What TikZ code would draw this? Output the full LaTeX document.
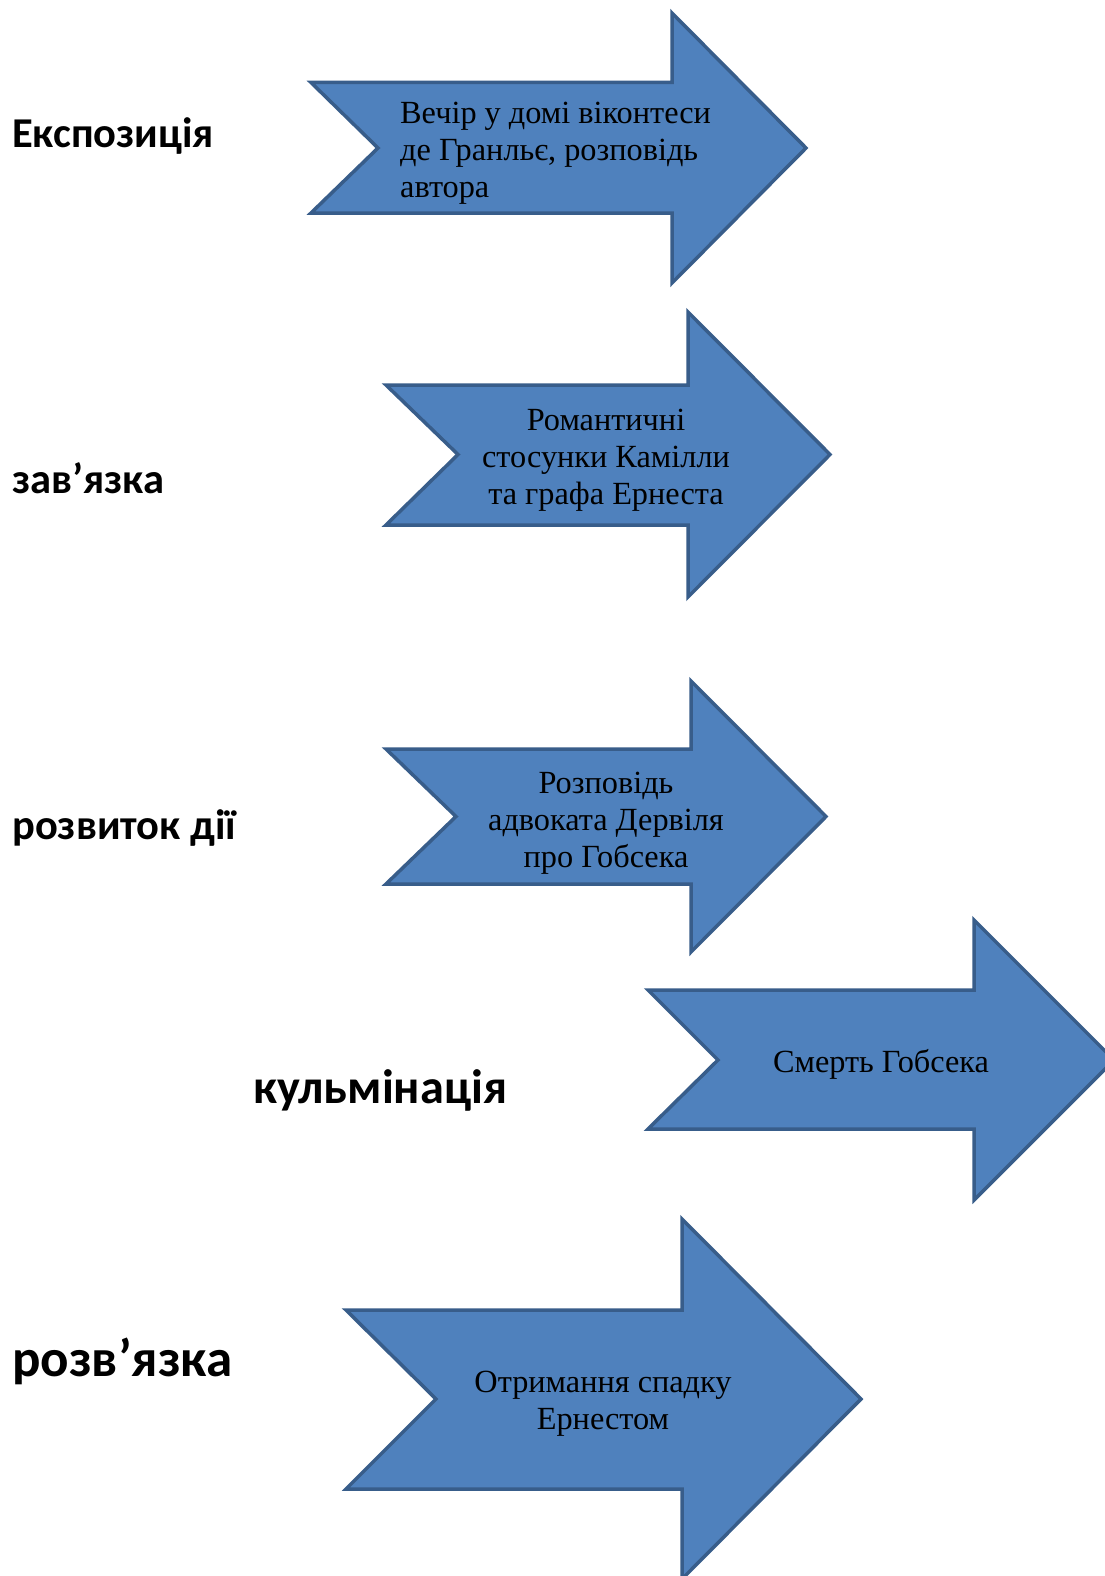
\documentclass[tikz,border=0pt]{standalone}
\usepackage{fontspec}
\setmainfont{Liberation Serif}
\newfontfamily\stagefont{Carlito}
\definecolor{arrowfill}{HTML}{4F81BD}
\definecolor{arrowline}{HTML}{385D8A}
\tikzset{
	blockarrow/.style={fill=arrowfill, draw=arrowline, line width=3.5pt, line join=miter},
	stage/.style={anchor=west, inner sep=0pt, font=\stagefont\bfseries\fontsize{42.5}{50}\selectfont},
	bigstage/.style={stage, font=\stagefont\bfseries\fontsize{48.3}{58}\selectfont},
	event/.style={inner sep=0pt, align=center, font=\fontsize{32.3}{37}\selectfont}
}
\begin{document}
\begin{tikzpicture}[x=1pt,y=-1pt]
		\useasboundingbox (0,0) rectangle (1105,1576);
		\clip (0,0) rectangle (1105,1576);
		\fill[white] (0,0) rectangle (1105,1576);
		
		% arrows
		\draw[blockarrow] (311,82.5) -- (672,82.5) -- (672,13) -- (806,148) -- (672,283) -- (672,213) -- (311,213) -- (378,148) -- cycle;
		\draw[blockarrow] (386,385) -- (688,385) -- (688,312) -- (830,454.5) -- (688,597) -- (688,525) -- (386,525) -- (458,454.5) -- cycle;
		\draw[blockarrow] (386,749) -- (691,749) -- (691,681) -- (826,816.5) -- (691,952) -- (691,884) -- (386,884) -- (456,816.5) -- cycle;
		\draw[blockarrow] (648,990) -- (974,990) -- (974,920) -- (1114,1060) -- (974,1200) -- (974,1129) -- (648,1129) -- (718,1060) -- cycle;
		\draw[blockarrow] (346,1310) -- (682,1310) -- (682,1219) -- (861,1399) -- (682,1579) -- (682,1489) -- (346,1489) -- (436,1399) -- cycle;
		
		% events
		\node[event, anchor=west, align=left] (evening) at (400,153) {Вечір у домі віконтеси\\де Гранльє, розповідь\\автора};
		\node[event] (romance) at (606,460) {Романтичні\\стосунки Камілли\\та графа Ернеста};
		\node[event] (story) at (606,823) {Розповідь\\адвоката Дервіля\\про Гобсека};
		\node[event] (death) at (881,1064) {Смерть Гобсека};
		\node[event] (legacy) at (603,1404) {Отримання спадку\\Ернестом};
		
		% stages
		\node[stage] (exposition) at (12,136) {Експозиція};
		\node[stage] (setup) at (12,478) {зав’язка};
		\node[stage] (rising) at (12,828) {розвиток дії};
		\node[bigstage] (climax) at (253,1090) {кульмінація};
		\node[bigstage, font=\stagefont\bfseries\fontsize{53}{62}\selectfont] (ending) at (12,1361) {розв’язка};

	\end{tikzpicture}
\end{document}
